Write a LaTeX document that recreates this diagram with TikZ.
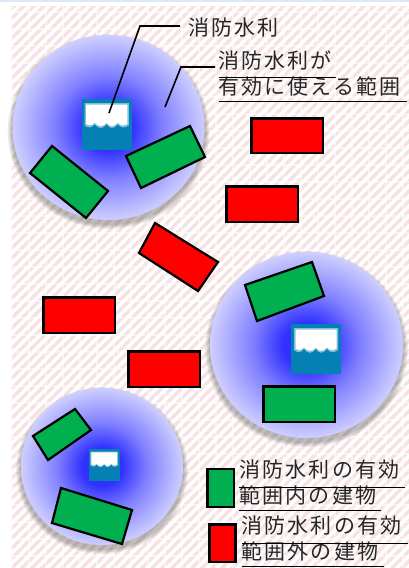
\documentclass[tikz,border=0pt]{standalone}
\usepackage{fontspec}
\setmainfont{Noto Sans CJK JP}[LetterSpace=10]
\usetikzlibrary{calc}
\definecolor{zc0}{HTML}{3030FF}
\definecolor{zc1}{HTML}{8080FF}
\definecolor{zc2}{HTML}{CECEFF}
\pgfdeclareradialshading{zone}{\pgfpoint{0bp}{0bp}}{color(0bp)=(zc0); color(6bp)=(zc0); color(14bp)=(zc1); color(25bp)=(zc2); color(50bp)=(zc2)}
\definecolor{gb}{HTML}{00B050}
\definecolor{wat}{HTML}{0580B5}
\definecolor{hatch}{HTML}{F6E2E2}
\definecolor{topbar}{HTML}{DDE8F5}
\tikzset{
  bld/.style={draw=black,line width=2.2pt,line join=miter},
  gbld/.style={bld,fill=gb},
  rbld/.style={bld,fill=red},
  lead/.style={draw=black,line width=1.6pt},
  rule/.style={draw=black,line width=1pt},
  lab/.style={anchor=west,inner sep=0pt,font=\fontsize{21}{23}\selectfont,text=black!85},
}
\newcommand{\zone}[4]{%
  \foreach \k in {8,6,4,2}{\fill[black,opacity=.07] (#1,#2+4) ellipse ({#3+\k*.6} and {#4+\k*.6});}
  \shade[shading=zone] (#1,#2) ellipse ({#3} and {#4});
}
\newcommand{\wicon}[3]{% x,y top-left, size
  \fill[wat] (#1,#2) rectangle ++(#3,#3);
  \begin{scope}[shift={(#1,#2)},x=#3/50*1pt,y=-#3/50*1pt]
    \fill[white!50!wat] (3,4) -- (47,4) -- (47,26) .. controls (43,29) and (39,29) .. (36,25) .. controls (32,30) and (28,30) .. (25,25) .. controls (21,30) and (17,30) .. (13,25) .. controls (10,29) and (6,29) .. (3,26) -- cycle;
    \fill[white] (4.5,5.5) -- (45.5,5.5) -- (45.5,24.5) .. controls (42,27) and (39,27) .. (36,23.5) .. controls (32,28) and (28,28) .. (25,23.5) .. controls (21,28) and (17,28) .. (13,23.5) .. controls (10,27) and (7,26.5) .. (4.5,24.5) -- cycle;
  \end{scope}
}
\begin{document}
\begin{tikzpicture}[x=1pt,y=-1pt]
\useasboundingbox (0,0) rectangle (409,568);
\fill[white] (0,0) rectangle (409,568);
\fill[topbar] (0,0) rectangle (409,1.5);
\begin{scope}
  \clip (11,6) rectangle (409,568);
  \foreach \i in {0,10,...,990}{\draw[hatch,line width=3.4pt] (\i,0) -- (\i-600,600);}
  \foreach \i in {12,29,...,409}{\draw[white,opacity=.5,line width=1.5pt] (\i,0) -- (\i,568);}
  \foreach \i in {12,29,...,568}{\draw[white,opacity=.5,line width=1.5pt] (0,\i) -- (409,\i);}
\end{scope}
% zones
\zone{108.5}{127.5}{96}{92.5}
\zone{306.5}{345}{96.5}{93}
\zone{102}{466.5}{81}{78.5}
% icons
\wicon{81.5}{99}{50.5}
\wicon{291}{324}{50}
\wicon{88.5}{449}{31.5}
% buildings
\draw[gbld] (52,146) -- (108,191) -- (86,218) -- (30,173) -- cycle;
\draw[gbld] (190,126) -- (205,157) -- (141,188) -- (126,156) -- cycle;
\draw[rbld] (251.5,118.5) rectangle (323,153);
\draw[rbld] (226.5,186.5) rectangle (298,222);
\draw[rbld] (155,223) -- (218,262) -- (198,291) -- (139,253) -- cycle;
\draw[rbld] (43.5,297.5) rectangle (115,333);
\draw[rbld] (128.5,351.5) rectangle (200,387);
\draw[gbld] (312,262) -- (324,296) -- (257,321) -- (245,285) -- cycle;
\draw[gbld] (263.5,386.5) rectangle (335,422);
\draw[gbld] (75,409) -- (91,430) -- (48,460) -- (33,436) -- cycle;
\draw[gbld] (61,488) -- (132,510) -- (122,544) -- (52,523) -- cycle;
% labels
\node[lab] (water) at (188,28) {消防水利};
\node[lab] (range1) at (218,60) {消防水利が};
\node[lab] (range2) at (218,87) {有効に使える範囲};
\node[lab] (leg1a) at (239.5,470) {消防水利の有効};
\node[lab] (leg1b) at (239.5,495) {範囲内の建物};
\node[lab] (leg2a) at (241.5,526) {消防水利の有効};
\node[lab] (leg2b) at (241.5,551) {範囲外の建物};
% leaders
\coordinate (wtip) at (109,113);
\coordinate (rtip) at (165,107);
\draw[lead] (180,26) -- (140,26) -- (wtip);
\draw[lead] (215,67) -- (181,67) -- (rtip);
% rules
\draw[rule] (218.5,77.5) -- (336,77.5);
\draw[rule] (218.5,101.5) -- (407,101.5);
\draw[rule] (239,487) -- (405,487);
\draw[rule] (239,510.5) -- (381,510.5);
\draw[rule] (242,543) -- (408,543);
\draw[rule] (242,566.5) -- (384,566.5);
% legend
\draw[gbld] (207.5,469) rectangle (234,507);
\draw[rbld] (209.5,524.5) rectangle (235.5,562);
\end{tikzpicture}
\end{document}
